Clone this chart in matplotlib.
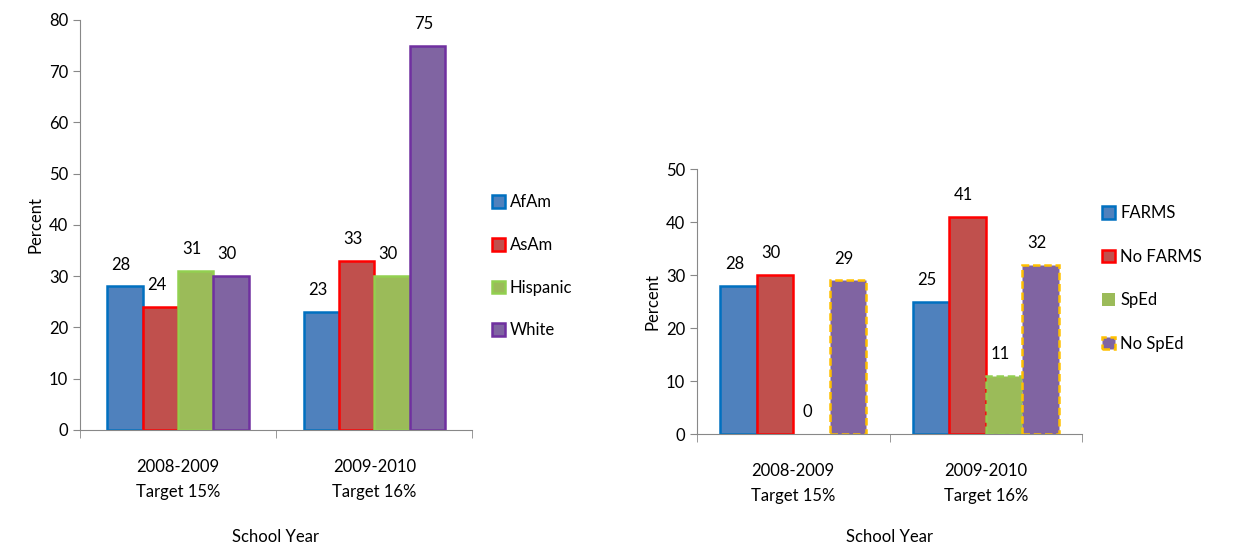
import matplotlib
matplotlib.use("Agg")
import matplotlib.pyplot as plt
import numpy as np

plt.rcParams['font.family'] = ['Lato', 'DejaVu Sans']

categories = ["2008-2009\nTarget 15%", "2009-2010\nTarget 16%"]

left_series = ["AfAm", "AsAm", "Hispanic", "White"]
left_values = [[28, 23], [24, 33], [31, 30], [30, 75]]

right_series = ["FARMS", "No FARMS", "SpEd", "No SpEd"]
right_values = [[28, 25], [30, 41], [0, 11], [29, 32]]

faces = ["#4F81BD", "#C0504D", "#9BBB59", "#8064A2"]
left_edges = ["#0070C0", "#FF0000", "#92D050", "#7030A0"]
right_edges = ["#0070C0", "#FF0000", "#92D050", "#FFC000"]
right_styles = ["solid", "solid", (0, (3, 1.5)), (0, (3, 1.5))]

fig = plt.figure(figsize=(12.38, 5.46), dpi=100)

def style_axes(ax, ymax, step, xlabel_x):
    for s in ["top", "right"]:
        ax.spines[s].set_visible(False)
    for s in ["left", "bottom"]:
        ax.spines[s].set_color("#888888")
    ax.set_ylim(0, ymax)
    ax.set_yticks(np.arange(0, ymax + 1, step))
    ax.tick_params(axis="y", colors="#888888", labelcolor="black", labelsize=12, length=5, direction="out")
    ax.set_xlim(-0.5, 1.5)
    ax.set_xticks([-0.5, 0.5, 1.5], minor=True)
    ax.set_xticks([0, 1])
    ax.set_xticklabels(categories, fontsize=12, linespacing=1.65)
    ax.tick_params(axis="x", which="major", length=0, pad=21)
    ax.tick_params(axis="x", which="minor", colors="#888888", length=6)
    ax.set_ylabel("Percent", fontsize=12)
    fig.text(xlabel_x, 1 - 537 / 546, "School Year", fontsize=12, ha="center", va="center")

def draw(ax, series, values, edges, styles, width):
    x = np.arange(len(categories))
    n = len(series)
    for i, (name, vals) in enumerate(zip(series, values)):
        pos = x + (i - (n - 1) / 2) * width
        bars = ax.bar(pos, vals, width, color=faces[i], edgecolor=edges[i],
                      linewidth=1.8, linestyle=styles[i], label=name)
        for b, v in zip(bars, vals):
            if v == 0:
                b.set_edgecolor("none")
        for p, v in zip(pos, vals):
            ax.annotate(str(v), (p - 0.02, v), xytext=(0, 10), textcoords="offset points",
                        ha="center", va="bottom", fontsize=12)

ax1 = fig.add_axes([0.0646, 0.2125, 0.317, 0.751])
draw(ax1, left_series, left_values, left_edges, ["solid"] * 4, 0.18)
style_axes(ax1, 80, 10, 276 / 1238)
ax1.legend(loc="center left", bbox_to_anchor=(0.385, 0.512), bbox_transform=fig.transFigure,
           frameon=False, fontsize=12, labelspacing=1.6, handlelength=0.8, handleheight=0.8,
           handletextpad=0.3)

ax2 = fig.add_axes([0.563, 0.205, 0.311, 0.485])
draw(ax2, right_series, right_values, right_edges, right_styles, 0.19)
style_axes(ax2, 50, 10, 889 / 1238)
ax2.legend(loc="center left", bbox_to_anchor=(0.878, 0.49), bbox_transform=fig.transFigure,
           frameon=False, fontsize=12, labelspacing=1.65, handlelength=0.8, handleheight=0.8,
           handletextpad=0.3)

fig.savefig("out.png", dpi=100)
